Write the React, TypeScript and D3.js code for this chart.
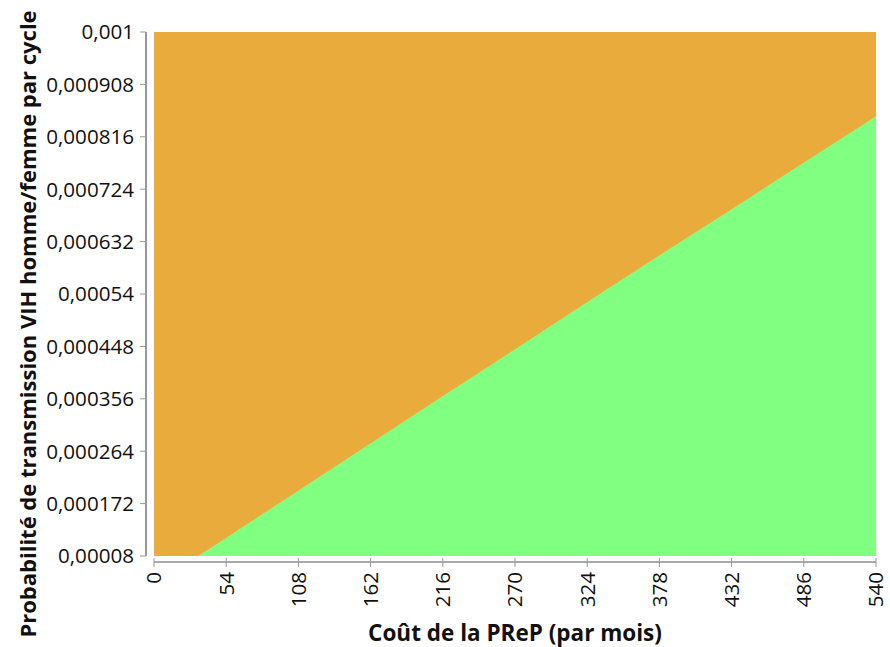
import React from "react";
import * as d3 from "d3";

const costTicks = [0, 54, 108, 162, 216, 270, 324, 378, 432, 486, 540];
const probTicks = [0.00008, 0.000172, 0.000264, 0.000356, 0.000448, 0.00054, 0.000632, 0.000724, 0.000816, 0.000908, 0.001];
const probLabels = ["0,00008", "0,000172", "0,000264", "0,000356", "0,000448", "0,00054", "0,000632", "0,000724", "0,000816", "0,000908", "0,001"];
// boundary between regions: cost -> threshold probability
const boundaryCost = [33, 54, 108, 162, 216, 270, 324, 378, 432, 486, 540];
const boundaryProb = [0.00008, 0.000112, 0.000195, 0.000278, 0.000361, 0.000443, 0.000526, 0.000608, 0.000689, 0.000771, 0.000852];

const W = 890, H = 647;
const L = 154, R = 876, T = 32, B = 556;

export default function App() {
  const x = d3.scaleLinear().domain([0, 540]).range([L, R]);
  const y = d3.scaleLinear().domain([0.00008, 0.001]).range([B, T]);
  const pts: [number, number][] = boundaryCost.map((c, i) => [c, boundaryProb[i]]);
  const area = d3.area<[number, number]>().x(d => x(d[0])).y0(y(0.00008)).y1(d => y(d[1]));
  const font = "'Open Sans', sans-serif";
  return (
    <div style={{ position: "absolute", left: 0, top: 0 }}>
      <svg width={W} height={H} style={{ display: "block", background: "#fff" }}>
        <rect x={L} y={T} width={R - L} height={B - T} fill="#E9AB3B" />
        <path d={area(pts) || ""} fill="#80FF80" />
        {/* y axis */}
        <line x1={146} x2={146} y1={T} y2={B} stroke="#555" strokeWidth={1.2} />
        {probTicks.map((p, i) => (
          <g key={i}>
            <line x1={140} x2={146} y1={y(p)} y2={y(p)} stroke="#999" />
            <text x={134} y={y(p)} dy="0.36em" textAnchor="end" fontFamily={font} fontSize={20.6} fill="#111">{probLabels[i]}</text>
          </g>
        ))}
        {/* x axis */}
        <line x1={L} x2={R} y1={562} y2={562} stroke="#555" strokeWidth={1.2} />
        {costTicks.map((c, i) => (
          <g key={i}>
            <line x1={x(c)} x2={x(c)} y1={558} y2={567} stroke="#999" />
            <text transform={`translate(${x(c)},572) rotate(-90)`} dy="0.36em" textAnchor="end" fontFamily={font} fontSize={20.6} fill="#111">{c}</text>
          </g>
        ))}
        <text x={515} y={641} textAnchor="middle" fontFamily={font} fontWeight="bold" fontSize={22.5} fill="#111">Coût de la PReP (par mois)</text>
        <text transform="translate(36,324) rotate(-90)" textAnchor="middle" fontFamily={font} fontWeight="bold" fontSize={22} fill="#111">Probabilité de transmission VIH homme/femme par cycle</text>
      </svg>
    </div>
  );
}
